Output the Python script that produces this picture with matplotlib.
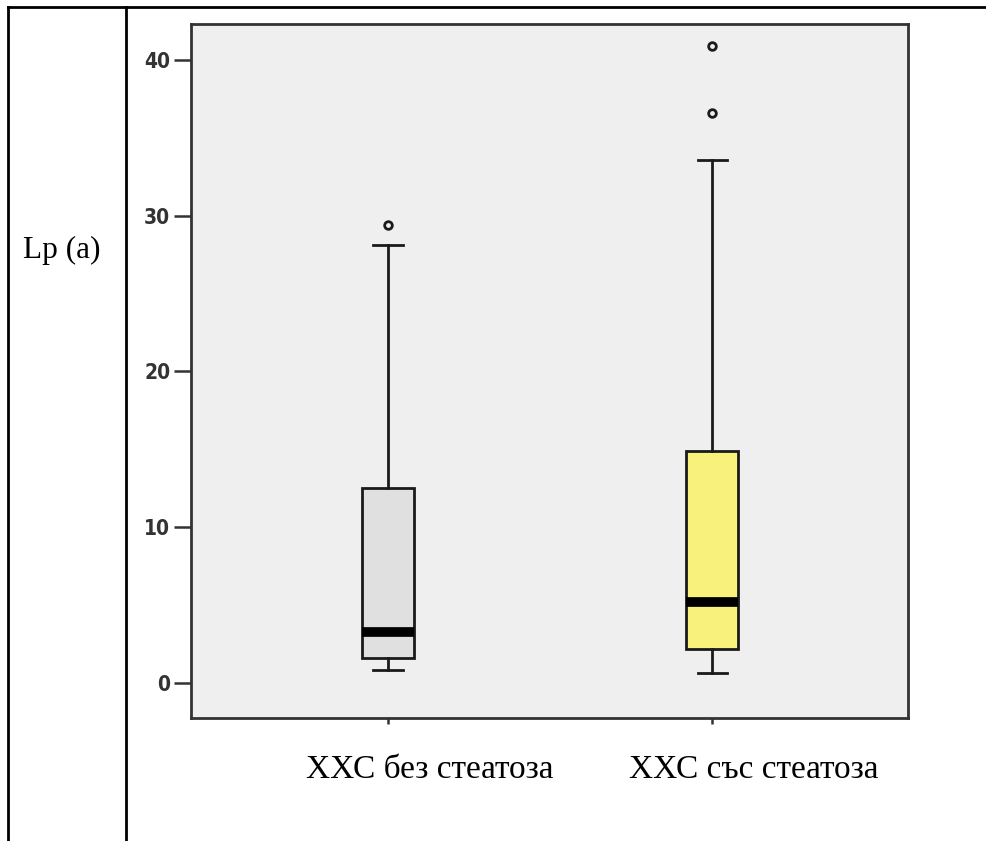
import numpy as np
import matplotlib
matplotlib.use('Agg')
import matplotlib.pyplot as plt
from matplotlib.lines import Line2D
from matplotlib.transforms import ScaledTranslation

# Данни (отчетени от фигурата)
groups = ['ХХС без стеатоза', 'ХХС със стеатоза']
q1 = [1.6, 2.2]
medians = [3.3, 5.2]
q3 = [12.5, 14.9]
whis_lo = [0.8, 0.65]
whis_hi = [28.1, 33.6]
outliers = [[29.4], [36.6, 40.9]]
row_label = 'Lp (a)'
yticks = [0, 10, 20, 30, 40]

box_colors = ['#e0e0e0', '#f8f27c']

W, H = 986, 841
fig = plt.figure(figsize=(W / 100, H / 100), dpi=100)

# рамка на таблицата
lw_tab = 2.0
fig.add_artist(Line2D([8 / W, 1], [1 - 7 / H, 1 - 7 / H], color='black', lw=lw_tab))
fig.add_artist(Line2D([8 / W, 8 / W], [0, 1 - 7 / H], color='black', lw=lw_tab))
fig.add_artist(Line2D([126 / W, 126 / W], [0, 1 - 7 / H], color='black', lw=lw_tab))
fig.text(61.5 / W, 1 - 250 / H, row_label, ha='center', va='center',
         family='Liberation Serif', fontsize=22.5)

ax = fig.add_axes([191 / W, 1 - 718 / H, 717 / W, 694 / H])
ax.set_facecolor('#efefef')

stats = []
for i in range(len(groups)):
    stats.append(dict(med=medians[i], q1=q1[i], q3=q3[i],
                      whislo=whis_lo[i], whishi=whis_hi[i],
                      fliers=outliers[i], label=groups[i]))

bp = ax.bxp(stats, positions=[1, 2], widths=0.16, patch_artist=True,
            showfliers=True,
            boxprops=dict(linewidth=2, edgecolor='#1a1a1a'),
            medianprops=dict(color='black', linewidth=7, solid_capstyle='butt'),
            whiskerprops=dict(color='#1a1a1a', linewidth=2),
            capprops=dict(color='#1a1a1a', linewidth=2),
            capwidths=0.09,
            flierprops=dict(marker='o', markersize=5.5, markerfacecolor='none',
                            markeredgecolor='#1a1a1a', markeredgewidth=2))
for patch, c in zip(bp['boxes'], box_colors):
    patch.set_facecolor(c)

ax.set_xlim(0.392, 2.604)
ax.set_ylim(-2.25, 42.3)
ax.set_yticks(yticks)
ax.set_yticklabels([str(t) for t in yticks], family='DejaVu Sans',
                   fontstretch='condensed', fontweight='bold', fontsize=15,
                   color='#333333')
ax.tick_params(axis='y', direction='out', length=12, width=1.8, color='#333333', pad=3)
ax.tick_params(axis='x', direction='out', length=4, width=1.8, color='#333333', pad=22)
ax.set_xticks([1, 2])
ax.set_xticklabels(groups, family='Liberation Serif', fontsize=24, color='black')
# надписите под диаграмата са леко изместени надясно
for lbl in ax.get_xticklabels():
    lbl.set_transform(lbl.get_transform() + ScaledTranslation(0.42, 0, fig.dpi_scale_trans))
for s in ax.spines.values():
    s.set_linewidth(2)
    s.set_color('#333333')

fig.savefig('out.png', dpi=100)
